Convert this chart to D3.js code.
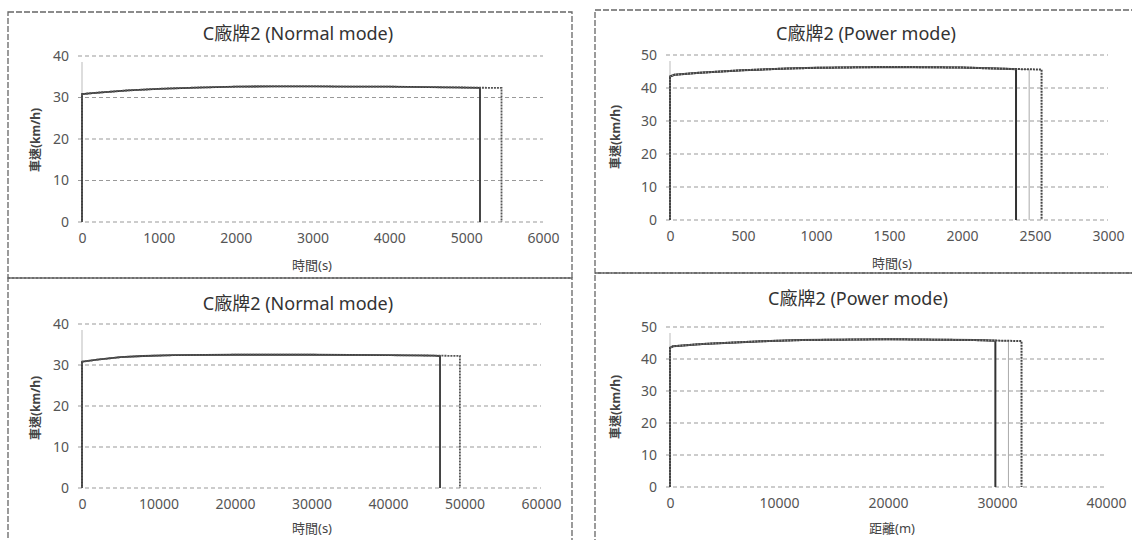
<!DOCTYPE html>
<html>
<head>
<meta charset="utf-8">
<script src="https://cdn.jsdelivr.net/npm/d3@7"></script>
<style>
  body { margin: 0; background: #fff; }
  text { font-family: "Noto Sans", "Noto Sans CJK TC", sans-serif; }
</style>
</head>
<body>
<div id="chart"></div>
<script>
// values

// top left: normal mode, speed vs time
const nmTime = [0, 0, 100, 300, 600, 1000, 1500, 2000, 2500, 3000, 3500, 4000, 4500, 5000];
const nmTimeSpeed = [0, 30.8, 31.0, 31.3, 31.7, 32.1, 32.4, 32.6, 32.7, 32.7, 32.6, 32.6, 32.5, 32.4];
const nmTimeEnds = [5180, 5460];
const nmTimeEndSpeed = [32.3, 32.3];
const nmTimeTicks = [0, 1000, 2000, 3000, 4000, 5000, 6000];

// top right: power mode, speed vs time
const pmTime = [0, 0, 30, 200, 500, 800, 1000, 1500, 2000, 2300];
const pmTimeSpeed = [0, 43.5, 44.0, 44.6, 45.4, 45.9, 46.1, 46.4, 46.2, 45.8];
const pmTimeEnds = [2370, 2460, 2545];
const pmTimeEndSpeed = [45.7, 45.6, 45.6];
const pmTimeTicks = [0, 500, 1000, 1500, 2000, 2500, 3000];

// bottom left: normal mode, speed vs distance
const nmDist = [0, 0, 2000, 5000, 8000, 12000, 20000, 30000, 40000, 46000];
const nmDistSpeed = [0, 30.8, 31.3, 31.9, 32.2, 32.4, 32.5, 32.5, 32.4, 32.3];
const nmDistEnds = [46800, 49400];
const nmDistEndSpeed = [32.2, 32.2];
const nmDistTicks = [0, 10000, 20000, 30000, 40000, 50000, 60000];

// bottom right: power mode, speed vs distance
const pmDist = [0, 0, 300, 3000, 8000, 12000, 20000, 28000];
const pmDistSpeed = [0, 43.5, 44.0, 44.7, 45.5, 45.9, 46.2, 45.9];
const pmDistEnds = [29850, 31050, 32250];
const pmDistEndSpeed = [45.7, 45.6, 45.6];
const pmDistTicks = [0, 10000, 20000, 30000, 40000];

const speedTicks40 = [0, 10, 20, 30, 40];
const speedTicks50 = [0, 10, 20, 30, 40, 50];

const titles = ["C廠牌2 (Normal mode)", "C廠牌2 (Power mode)", "C廠牌2 (Normal mode)", "C廠牌2 (Power mode)"];
const xTitles = ["時間(s)", "時間(s)", "時間(s)", "距離(m)"];
const yTitle = "車速(km/h)";

const width = 1132, height = 540;

const svg = d3.select("#chart")
  .append("svg")
    .attr("width", width)
    .attr("height", height);

// panel frames (dashed, like the scanned page)
const frames = [
  [8, 12, 572, 278], [595, 10, 1140, 273],
  [8, 278, 572, 548], [595, 273, 1140, 548]
];
frames.forEach(function(f) {
  svg.append("rect")
    .attr("x", f[0]).attr("y", f[1])
    .attr("width", f[2] - f[0]).attr("height", f[3] - f[1])
    .attr("fill", "none")
    .attr("stroke", "#666")
    .attr("stroke-width", 1.3)
    .attr("stroke-dasharray", "6,2");
});

const panels = [
  { xs: nmTime, ys: nmTimeSpeed, ends: nmTimeEnds, endY: nmTimeEndSpeed, xt: nmTimeTicks, yt: speedTicks40,
    px: [82, 543], py: [222, 56], title: titles[0], xTitle: xTitles[0], tx: 298, ty: 40, xtx: 312, xty: 270, ytx: 36, yty: 140,
    styles: [{ c: "#333", w: 1.8, d: null }, { c: "#555", w: 1.8, d: "2,1" }] },
  { xs: pmTime, ys: pmTimeSpeed, ends: pmTimeEnds, endY: pmTimeEndSpeed, xt: pmTimeTicks, yt: speedTicks50,
    px: [670, 1108], py: [220, 55], title: titles[1], xTitle: xTitles[1], tx: 866, ty: 40, xtx: 892, xty: 268, ytx: 616, yty: 137,
    styles: [{ c: "#333", w: 2, d: null }, { c: "#aaa", w: 1, d: null }, { c: "#444", w: 2, d: "2,1" }] },
  { xs: nmDist, ys: nmDistSpeed, ends: nmDistEnds, endY: nmDistEndSpeed, xt: nmDistTicks, yt: speedTicks40,
    px: [82, 541], py: [488, 324], title: titles[2], xTitle: xTitles[2], tx: 298, ty: 310, xtx: 312, xty: 533, ytx: 36, yty: 408,
    styles: [{ c: "#333", w: 1.8, d: null }, { c: "#555", w: 1.8, d: "2,1" }] },
  { xs: pmDist, ys: pmDistSpeed, ends: pmDistEnds, endY: pmDistEndSpeed, xt: pmDistTicks, yt: speedTicks50,
    px: [670, 1106], py: [487, 327], title: titles[3], xTitle: xTitles[3], tx: 858, ty: 305, xtx: 892, xty: 533, ytx: 616, yty: 407,
    styles: [{ c: "#333", w: 2, d: null }, { c: "#aaa", w: 1, d: null }, { c: "#444", w: 2, d: "2,1" }] }
];

panels.forEach(function(p) {
  const x = d3.scaleLinear()
    .domain([p.xt[0], p.xt[p.xt.length - 1]])
    .range(p.px);
  const y = d3.scaleLinear()
    .domain([p.yt[0], p.yt[p.yt.length - 1]])
    .range(p.py);

  const g = svg.append("g");

  // horizontal gridlines
  g.selectAll("line.grid")
    .data(p.yt)
    .join("line")
      .attr("class", "grid")
      .attr("x1", p.px[0] - 4)
      .attr("x2", p.px[1])
      .attr("y1", function(d) { return y(d) })
      .attr("y2", function(d) { return y(d) })
      .style("stroke", "#999")
      .style("stroke-width", 1)
      .style("stroke-dasharray", "4,3");

  // faint value axis
  g.append("line")
    .attr("x1", p.px[0]).attr("x2", p.px[0])
    .attr("y1", p.py[0]).attr("y2", p.py[1] + 6)
    .style("stroke", "#bbb");

  // y tick labels
  g.append("g")
    .attr("transform", "translate(" + p.px[0] + ",0)")
    .call(d3.axisLeft(y).tickValues(p.yt).tickSize(0).tickPadding(13))
    .call(function(a) { a.select(".domain").remove() })
    .selectAll("text")
      .style("font-family", "Noto Sans")
      .style("font-size", "14px")
      .style("fill", "#555");

  // x tick labels
  g.append("g")
    .attr("transform", "translate(0," + p.py[0] + ")")
    .call(d3.axisBottom(x).tickValues(p.xt).tickFormat(d3.format("d")).tickSize(0).tickPadding(11))
    .call(function(a) { a.select(".domain").remove() })
    .selectAll("text")
      .style("font-family", "Noto Sans")
      .style("font-size", "14px")
      .style("fill", "#555");

  // each run: shared profile, then its own end drop
  const line = d3.line()
    .x(function(d) { return x(d[0]) })
    .y(function(d) { return y(d[1]) });

  p.ends.forEach(function(e, i) {
    const pts = p.xs.map(function(v, k) { return [v, p.ys[k]] })
      .filter(function(d) { return d[0] < e });
    pts.push([e, p.endY[i]]);
    pts.push([e, 0]);
    const s = p.styles[i];
    g.append("path")
      .datum(pts)
      .attr("d", line)
      .attr("fill", "none")
      .style("stroke", s.c)
      .style("stroke-width", s.w)
      .style("stroke-dasharray", s.d);
  });

  // titles
  g.append("text")
    .attr("x", p.tx).attr("y", p.ty)
    .attr("text-anchor", "middle")
    .style("font-size", "18px")
    .style("fill", "#333")
    .text(p.title);

  g.append("text")
    .attr("x", p.xtx).attr("y", p.xty)
    .attr("text-anchor", "middle")
    .style("font-size", "13px")
    .style("fill", "#444")
    .text(p.xTitle);

  g.append("text")
    .attr("transform", "translate(" + p.ytx + "," + p.yty + ") rotate(-90)")
    .attr("text-anchor", "middle")
    .attr("dy", "0.35em")
    .style("font-size", "12px")
    .style("font-weight", "bold")
    .style("fill", "#444")
    .text(yTitle);
});
</script>
</body>
</html>
